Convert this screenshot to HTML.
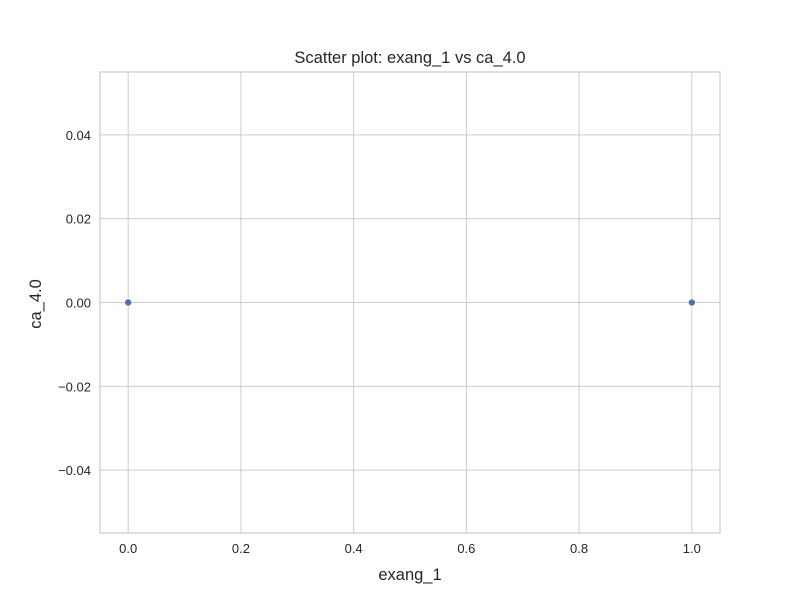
<!DOCTYPE html>
<html><head><meta charset="utf-8"><style>
body{margin:0;background:#fff;}
svg text{font-family:"Liberation Sans",sans-serif;fill:#262626;}
</style></head><body>
<svg id="chart" width="800" height="600" xmlns="http://www.w3.org/2000/svg">
<rect width="800" height="600" fill="#fff"/>
<g id="grid"></g>
<rect x="100" y="72" width="620" height="461" fill="none" stroke="#cccccc" stroke-width="1.25"/>
<g id="ticks"></g>
<g id="points"></g>
<text x="410" y="63" text-anchor="middle" font-size="16.5">Scatter plot: exang_1 vs ca_4.0</text>
<text x="410" y="580" text-anchor="middle" font-size="16.5">exang_1</text>
<text transform="translate(41,304) rotate(-90)" text-anchor="middle" font-size="16.5">ca_4.0</text>
</svg>
<script>
const xVals = [0, 1];
const yVals = [0, 0];
const xTicks = [0, 0.2, 0.4, 0.6, 0.8, 1.0];
const xTickLabels = ["0.0", "0.2", "0.4", "0.6", "0.8", "1.0"];
const yTicks = [0.04, 0.02, 0, -0.02, -0.04];
const yTickLabels = ["0.04", "0.02", "0.00", "\u22120.02", "\u22120.04"];
const L=100,R=720,T=72,B=533;
const xMin=-0.05,xMax=1.05,yMin=-0.055,yMax=0.055;
const sx=v=>L+(v-xMin)/(xMax-xMin)*(R-L);
const sy=v=>B-(v-yMin)/(yMax-yMin)*(B-T);
const NS="http://www.w3.org/2000/svg";
const grid=document.getElementById('grid'),ticks=document.getElementById('ticks'),pts=document.getElementById('points');
function mk(tag,attrs,parent){const e=document.createElementNS(NS,tag);for(const k in attrs)e.setAttribute(k,attrs[k]);parent.appendChild(e);return e;}
xTicks.forEach((t,i)=>{
  const l=mk('line',{x1:sx(t),x2:sx(t),y1:T,y2:B,stroke:'#cccccc','stroke-width':1},grid);
  
  
  const tx=mk('text',{x:sx(t),y:B+20,'text-anchor':'middle','font-size':13},ticks);
  tx.textContent=xTickLabels[i];
  
  
});
yTicks.forEach((t,i)=>{
  const l=mk('line',{x1:L,x2:R,y1:sy(t),y2:sy(t),stroke:'#cccccc','stroke-width':1},grid);
  
  
  const tx=mk('text',{x:L-9,y:sy(t)+5,'text-anchor':'end','font-size':13},ticks);
  tx.textContent=yTickLabels[i];
  
  
});
xVals.forEach((x,i)=>{
  const c=mk('circle',{cx:sx(x),cy:sy(yVals[i]),r:3.5,fill:'#4c72b0',stroke:'#fff','stroke-width':0.6},pts);
  
  
});
</script>
</body></html>
